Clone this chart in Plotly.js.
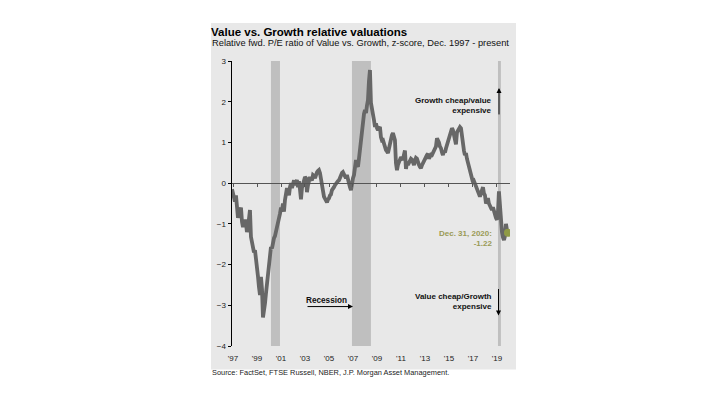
<!DOCTYPE html>
<html>
<head>
<meta charset="utf-8">
<script src="https://cdn.plot.ly/plotly-3.0.1.min.js"></script>
<style>html,body{margin:0;padding:0;background:#fff;}#chart{width:720px;height:405px;}</style>
</head>
<body>
<div id="chart"></div>
<script>
// Monthly z-score of relative fwd P/E (Value vs. Growth), Dec 1997 .. Dec 2020
const firstMonth = '1997-12';
const zScore = [
 -0.15,-0.25,-0.35,-0.45,-0.30,-0.60,-0.85,-0.75,-0.62,-0.60,-0.95,-1.08,-0.95,-0.90,-1.00,-1.20,-1.10,-0.80,-0.66,-1.32,
 -1.50,-1.60,-1.70,-1.65,-1.95,-2.10,-2.30,-2.55,-2.75,-2.30,-2.60,-3.30,-3.15,-2.95,-2.70,-2.45,-2.15,-2.05,-1.85,-1.57,
 -1.60,-1.45,-1.35,-1.30,-1.20,-1.05,-0.95,-0.90,-0.75,-0.60,-0.65,-0.50,-0.70,-0.42,-0.30,-0.12,-0.20,-0.30,-0.10,0.00,
 -0.12,0.05,0.07,-0.05,0.02,0.08,-0.10,0.05,-0.15,-0.40,-0.12,0.00,0.05,0.15,0.12,-0.22,-0.05,0.05,0.15,0.10,
 0.07,0.20,0.18,0.12,0.22,0.27,0.30,0.32,0.25,0.12,-0.12,-0.20,-0.33,-0.38,-0.42,-0.47,-0.40,-0.37,-0.30,-0.28,
 -0.17,-0.15,-0.10,-0.05,0.00,0.02,0.05,0.07,0.15,0.18,0.25,0.27,0.22,0.15,0.12,0.20,0.07,0.02,-0.10,-0.17,
 0.05,0.12,0.20,0.32,0.57,0.45,0.40,0.60,0.85,1.13,1.40,1.55,1.70,1.80,1.72,1.90,2.04,2.50,2.78,1.97,
 1.85,1.72,1.55,1.38,1.47,1.35,1.30,1.35,1.38,1.13,1.05,1.06,0.95,0.88,0.81,0.78,0.74,0.85,0.98,1.13,
 1.18,1.23,1.15,1.06,0.49,0.32,0.45,0.52,0.57,0.64,0.60,0.57,0.70,0.80,0.35,0.50,0.45,0.52,0.55,0.60,
 0.58,0.50,0.44,0.55,0.62,0.60,0.50,0.45,0.40,0.37,0.44,0.50,0.52,0.60,0.65,0.69,0.72,0.60,0.65,0.70,
 0.69,0.75,0.80,0.86,0.90,1.10,1.06,1.00,0.90,0.86,0.76,0.69,0.80,0.75,0.85,0.93,1.00,1.10,1.15,1.25,
 1.35,1.30,1.18,1.05,0.95,1.25,1.30,1.32,1.38,1.35,1.10,0.98,0.80,0.69,0.74,0.60,0.49,0.37,0.32,0.20,
 0.15,0.02,0.05,-0.02,-0.10,-0.12,-0.22,-0.30,-0.33,-0.25,-0.17,-0.10,-0.25,-0.30,-0.50,-0.45,-0.37,-0.50,-0.55,-0.60,
 -0.66,-0.59,-0.70,-0.83,-0.85,-0.90,-0.70,-0.20,-0.60,-1.00,-1.20,-1.33,-1.40,-1.30,-1.00,-1.15,-1.22
];
const recessionStart = ['2001-03-01', '2007-12-01', '2020-02-01'];
const recessionEnd   = ['2001-11-30', '2009-06-30', '2020-04-30'];
const tickDates = ['1998-01-01','2000-01-01','2002-01-01','2004-01-01','2006-01-01','2008-01-01',
                   '2010-01-01','2012-01-01','2014-01-01','2016-01-01','2018-01-01','2020-01-01'];
const tickLabels = ["'97","'99","'01","'03","'05","'07","'09","'11","'13","'15","'17","'19"];
const yTicks = [-4,-3,-2,-1,0,1,2,3];

// month dates
const dates = [];
{
  let y = parseInt(firstMonth.slice(0,4)), m = parseInt(firstMonth.slice(5,7));
  for (let i = 0; i < zScore.length; i++) {
    dates.push(y + '-' + String(m).padStart(2,'0') + '-01');
    m++; if (m > 12) { m = 1; y++; }
  }
}
const lastDate = [dates[dates.length-1]];
const lastVal = [zScore[zScore.length-1]];

const L = 232, R = 510, T = 61, B = 346.5;
const W = 720, H = 405;
const px = x => (x - L) / (R - L);
const py = y => (B - y) / (B - T);
const FONT = 'Liberation Sans, Arial, sans-serif';

const traces = [
  // placeholder on the zero-line axis so that axis is drawn
  {x: [dates[0]], y: [null], xaxis: 'x2', type: 'scatter', mode: 'lines', hoverinfo: 'skip', showlegend: false},
  {x: dates, y: zScore, type: 'scatter', mode: 'lines',
   line: {color: '#676767', width: 3.8}, hoverinfo: 'skip', showlegend: false},
  {x: lastDate, y: lastVal, type: 'scatter', mode: 'markers',
   marker: {color: '#8f9a45', size: 8}, hoverinfo: 'skip', showlegend: false}
];

const shapes = [
  {type: 'rect', xref: 'paper', yref: 'paper', x0: px(211), x1: px(516), y0: py(370), y1: py(23),
   fillcolor: '#e8e8e8', line: {width: 0}, layer: 'below'}
];
for (let i = 0; i < recessionStart.length; i++) {
  shapes.push({type: 'rect', xref: 'x', yref: 'paper', x0: recessionStart[i], x1: recessionEnd[i], y0: 0, y1: 1,
    fillcolor: '#bfbfbf', line: {width: 0}, layer: 'below'});
}

const ann = (o) => Object.assign({showarrow: false, borderpad: 0, font: {family: FONT, size: 8, color: '#000'}}, o);
const annotations = [
  ann({xref: 'paper', yref: 'paper', x: px(211), y: py(43), xanchor: 'left', yanchor: 'middle',
       text: 'Relative fwd. P/E ratio of Value vs. Growth, z-score, Dec. 1997 - present',
       font: {family: FONT, size: 9.3, color: '#111'}}),
  ann({xref: 'paper', yref: 'paper', x: px(211), y: py(373), xanchor: 'left', yanchor: 'middle',
       text: 'Source: FactSet, FTSE Russell, NBER, J.P. Morgan Asset Management.',
       font: {family: FONT, size: 7.4, color: '#222'}}),
  ann({xref: 'paper', yref: 'paper', x: px(493), y: py(106), xanchor: 'right', yanchor: 'middle', align: 'right',
       text: '<b>Growth cheap/value<br>expensive</b>', font: {family: FONT, size: 8, color: '#111'}}),
  ann({xref: 'paper', yref: 'paper', x: px(493), y: py(301.5), xanchor: 'right', yanchor: 'middle', align: 'right',
       text: '<b>Value cheap/Growth<br>expensive</b>', font: {family: FONT, size: 8, color: '#111'}}),
  ann({xref: 'paper', yref: 'paper', x: px(493), y: py(238.5), xanchor: 'right', yanchor: 'middle', align: 'right',
       text: '<b>Dec. 31, 2020:<br>-1.22</b>', font: {family: FONT, size: 8, color: '#9a9a55'}}),
  ann({xref: 'paper', yref: 'paper', x: px(305), y: py(301), xanchor: 'left', yanchor: 'middle',
       text: '<b>Recession</b>', font: {family: FONT, size: 8.2, color: '#111'}}),
  // arrows
  {xref: 'paper', yref: 'paper', x: px(499), y: py(88), ax: 0, ay: 28,
   text: '', showarrow: true, arrowhead: 2, arrowsize: 1, arrowwidth: 1, arrowcolor: '#000'},
  {xref: 'paper', yref: 'paper', x: px(498.5), y: py(316), ax: 0, ay: -28,
   text: '', showarrow: true, arrowhead: 2, arrowsize: 1, arrowwidth: 1, arrowcolor: '#000'},
  {xref: 'paper', yref: 'paper', x: px(353), y: py(307), ax: -47, ay: 0,
   text: '', showarrow: true, arrowhead: 2, arrowsize: 1, arrowwidth: 1, arrowcolor: '#000'}
];

const xr = ['1997-12-01', '2021-02-01'];
const layout = {
  width: W, height: H,
  margin: {l: L, r: W - R, t: T, b: H - B, pad: 0},
  paper_bgcolor: '#ffffff', plot_bgcolor: 'rgba(0,0,0,0)',
  title: {text: '<b>Value vs. Growth relative valuations</b>', xref: 'container', yref: 'container',
          x: 211 / W, xanchor: 'left', y: 1 - 32 / H, yanchor: 'middle',
          font: {family: FONT, size: 11.5, color: '#000'}},
  showlegend: false,
  xaxis: {type: 'date', range: xr, showgrid: false, zeroline: false, showline: false,
          tickmode: 'array', tickvals: tickDates, ticktext: tickLabels, ticks: '', ticklabelstandoff: 6,
          tickfont: {family: FONT, size: 8, color: '#222'}, fixedrange: true},
  xaxis2: {type: 'date', range: xr, overlaying: 'x', anchor: 'free', position: 4 / 7,
           showgrid: false, zeroline: false, showline: true, linecolor: '#555', linewidth: 1,
           tickmode: 'array', tickvals: tickDates, ticks: 'outside', ticklen: 3, tickcolor: '#555',
           showticklabels: false, fixedrange: true},
  yaxis: {range: [-4, 3], tickmode: 'array', tickvals: yTicks, showgrid: false,
          zeroline: false, showline: true, linecolor: '#000', linewidth: 1.5,
          ticks: 'outside', ticklen: 3, tickcolor: '#000',
          tickfont: {family: FONT, size: 8, color: '#222'}, fixedrange: true},
  shapes: shapes,
  annotations: annotations
};
Plotly.newPlot('chart', traces, layout, {staticPlot: true, displayModeBar: false});
</script>
</body>
</html>
